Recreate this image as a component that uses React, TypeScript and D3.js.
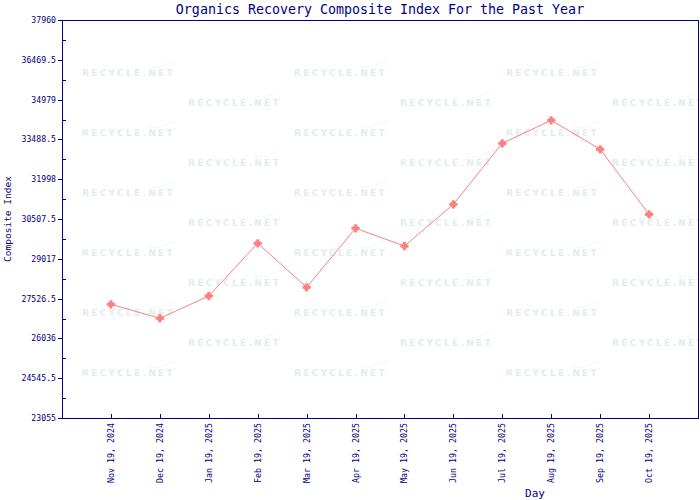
import React, { useEffect, useRef } from 'react';
import * as d3 from 'd3';

const dates = [
  'Nov 19, 2024', 'Dec 19, 2024', 'Jan 19, 2025', 'Feb 19, 2025',
  'Mar 19, 2025', 'Apr 19, 2025', 'May 19, 2025', 'Jun 19, 2025',
  'Jul 19, 2025', 'Aug 19, 2025', 'Sep 19, 2025', 'Oct 19, 2025',
];
const values = [27313, 26789, 27624, 29598, 27950, 30159, 29496, 31058, 33343, 34204, 33118, 30684];
const yTicks = [23055, 24545.5, 26036, 27526.5, 29017, 30507.5, 31998, 33488.5, 34979, 36469.5, 37960];

const NAVY = '#000080';
const MONO = '"DejaVu Sans Mono", "Liberation Mono", monospace';

const App: React.FC = () => {
  const svgRef = useRef<SVGSVGElement | null>(null);

  useEffect(() => {
    const w = 700;
    const h = 500;
    const m = { left: 62, right: 2, top: 20, bottom: 82 };
    const svg = d3.select(svgRef.current).attr('width', w).attr('height', h);
    svg.selectAll('*').remove();
    svg.append('rect').attr('width', w).attr('height', h).attr('fill', '#fff');

    const x = d3.scalePoint<string>().domain(dates).range([m.left, w - m.right]).padding(1);
    const y = d3.scaleLinear().domain([yTicks[0], yTicks[yTicks.length - 1]]).range([h - m.bottom, m.top]);

    // watermark, clipped to the plot box
    svg.append('clipPath').attr('id', 'plotclip')
      .append('rect').attr('x', m.left).attr('y', m.top)
      .attr('width', w - m.right - m.left).attr('height', h - m.bottom - m.top);
    const wm = svg.append('g').attr('fill', '#e3eded').attr('clip-path', 'url(#plotclip)');
    for (let c = 0; c < 6; c++) {
      const off = c % 2 === 0 ? 0 : 30;
      const rows = c % 2 === 0 ? 6 : 5;
      for (let r = 0; r < rows; r++) {
        const tx = 82 + c * 106;
        const ty = 76 + off + r * 60;
        wm.append('text')
          .attr('x', tx).attr('y', ty)
          .attr('font-family', '"DejaVu Sans", Verdana, sans-serif')
          .attr('font-weight', 'bold')
          .attr('font-size', 9)
          .attr('letter-spacing', 2.3)
          .text('RECYCLE.NET');
        wm.append('path')
          .attr('d', `M${tx + 66},${ty - 10} q8,3 16,-1 t12,-4`)
          .attr('fill', 'none').attr('stroke', '#e8f0f0').attr('stroke-width', 1)
          .attr('stroke-dasharray', '1,1');
      }
    }

    // plot frame
    svg.append('rect')
      .attr('x', m.left + 0.5).attr('y', m.top + 0.5)
      .attr('width', w - m.right - m.left).attr('height', h - m.bottom - m.top)
      .attr('fill', 'none').attr('stroke', NAVY).attr('stroke-width', 1);

    // y ticks
    const yg = svg.append('g');
    yTicks.forEach((v) => {
      const yy = Math.round(y(v)) + 0.5;
      yg.append('line').attr('x1', m.left - 4).attr('x2', m.left).attr('y1', yy).attr('y2', yy).attr('stroke', NAVY);
      yg.append('text')
        .attr('x', m.left - 6).attr('y', yy).attr('dy', '0.35em')
        .attr('text-anchor', 'end').attr('font-family', MONO).attr('font-size', 8.2)
        .attr('fill', NAVY).text(String(v));
    });
    d3.pairs(yTicks).forEach(([a, b]) => {
      const yy = Math.round(y((a + b) / 2)) + 0.5;
      yg.append('line').attr('x1', m.left).attr('x2', m.left + 4).attr('y1', yy).attr('y2', yy).attr('stroke', NAVY);
    });

    // x ticks
    const xg = svg.append('g');
    dates.forEach((d) => {
      const xx = Math.round(x(d) as number) + 0.5;
      xg.append('line').attr('x1', xx).attr('x2', xx).attr('y1', h - m.bottom - 4).attr('y2', h - m.bottom).attr('stroke', NAVY);
      xg.append('text')
        .attr('transform', `translate(${xx},${h - m.bottom + 5}) rotate(-90)`)
        .attr('dy', '0.35em')
        .attr('text-anchor', 'end').attr('font-family', MONO).attr('font-size', 8.3)
        .attr('fill', NAVY).text(d);
    });

    // line
    const line = d3.line<number>()
      .x((_, i) => x(dates[i]) as number)
      .y((v) => y(v));
    svg.append('path').datum(values)
      .attr('d', line).attr('fill', 'none').attr('stroke', '#ff7f7f').attr('stroke-width', 1);

    const pts = svg.append('g').attr('fill', '#ff8080');
    values.forEach((v, i) => {
      const px = x(dates[i]) as number;
      const py = y(v);
      pts.append('circle').attr('cx', px).attr('cy', py).attr('r', 3);
      pts.append('path').attr('transform', `translate(${px},${py})`)
        .attr('d', d3.symbol(d3.symbolCross, 38)());
    });

    // titles
    svg.append('text')
      .attr('x', (m.left + w - m.right) / 2).attr('y', 14)
      .attr('text-anchor', 'middle').attr('font-family', MONO).attr('font-size', 13.3)
      .attr('fill', NAVY).text('Organics Recovery Composite Index For the Past Year');
    svg.append('text')
      .attr('transform', `translate(11,${(m.top + h - m.bottom) / 2}) rotate(-90)`)
      .attr('text-anchor', 'middle').attr('font-family', MONO).attr('font-size', 9.5)
      .attr('fill', NAVY).text('Composite Index');
    svg.append('text')
      .attr('x', 535).attr('y', 497)
      .attr('text-anchor', 'middle').attr('font-family', MONO).attr('font-size', 11)
      .attr('fill', NAVY).text('Day');
  }, []);

  return <svg ref={svgRef} style={{ position: 'absolute', left: 0, top: 0, display: 'block' }}></svg>;
};

export default App;
